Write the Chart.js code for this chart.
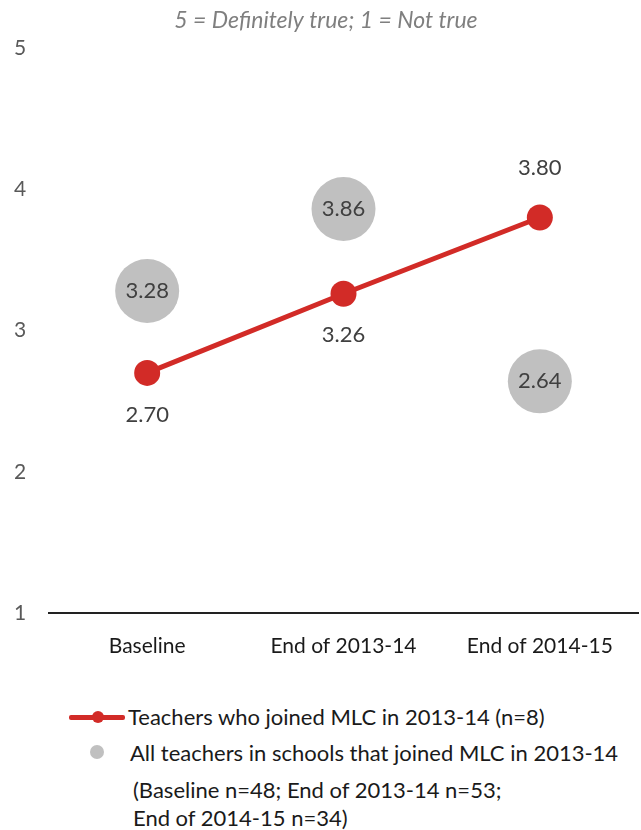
<!DOCTYPE html>
<html>
<head>
<meta charset="utf-8">
<script src="https://cdn.jsdelivr.net/npm/chart.js@4"></script>
<style>
  html, body { margin: 0; padding: 0; background: #ffffff; }
  body { width: 641px; height: 830px; position: relative; overflow: hidden; font-family: Lato, "Open Sans", sans-serif; }
  #wrap { position: absolute; left: 0; top: 0; width: 641px; height: 690px; }
  .lg { position: absolute; color: #1a1a1a; font-size: 22px; line-height: 24px; white-space: nowrap; }
  .sw-line { position: absolute; background: #d22b27; height: 5px; border-radius: 2px; }
  .sw-dot { position: absolute; border-radius: 50%; }
</style>
</head>
<body>
<div id="wrap"><canvas id="c" width="641" height="690"></canvas></div>

<div class="sw-line" style="left:69px; top:715px; width:56px;"></div>
<div class="sw-dot" style="left:92px; top:711px; width:12px; height:12px; background:#d22b27;"></div>
<div class="lg" style="left:128px; top:705px;" id="l1"></div>
<div class="sw-dot" style="left:90px; top:745px; width:14px; height:14px; background:#c0c0c0;"></div>
<div class="lg" style="left:130px; top:741px;" id="l2"></div>
<div class="lg" style="left:133px; top:778px;" id="l3"></div>
<div class="lg" style="left:133px; top:806px;" id="l4"></div>

<script>
// ---- data ----
const categories = ["Baseline", "End of 2013-14", "End of 2014-15"];
const teachersJoined = [2.70, 3.26, 3.80];
const allTeachers = [3.28, 3.86, 2.64];
const yTicks = [1, 2, 3, 4, 5];
const titleText = "5 = Definitely true; 1 = Not true";
const seriesNames = [
  "Teachers who joined MLC in 2013-14 (n=8)",
  "All teachers in schools that joined MLC in 2013-14"
];
const noteLines = [
  "(Baseline n=48; End of 2013-14 n=53;",
  "End of 2014-15 n=34)"
];

document.getElementById('l1').textContent = seriesNames[0];
document.getElementById('l2').textContent = seriesNames[1];
document.getElementById('l3').textContent = noteLines[0];
document.getElementById('l4').textContent = noteLines[1];

const FONT = "Lato, 'Open Sans', sans-serif";
const RED = "#d22b27";
const GRAY = "#c0c0c0";

const valueLabels = {
  id: 'valueLabels',
  afterDatasetsDraw(chart, args, opts) {
    const ctx = chart.ctx;
    ctx.save();
    ctx.font = "22px " + FONT;
    ctx.fillStyle = "#404040";
    ctx.textAlign = "center";
    ctx.textBaseline = "middle";
    chart.data.datasets.forEach((ds, i) => {
      const meta = chart.getDatasetMeta(i);
      const offs = opts.offsets[i];
      meta.data.forEach((pt, j) => {
        const v = ds.data[j];
        ctx.fillText(v.toFixed(2), pt.x, pt.y + offs[j]);
      });
    });
    ctx.restore();
  }
};

new Chart(document.getElementById('c'), {
  type: 'line',
  data: {
    labels: categories,
    datasets: [
      {
        label: seriesNames[1],
        data: allTeachers,
        showLine: false,
        pointRadius: 32,
        pointHoverRadius: 32,
        pointBackgroundColor: GRAY,
        pointBorderWidth: 0,
        borderColor: GRAY,
        order: 2
      },
      {
        label: seriesNames[0],
        data: teachersJoined,
        borderColor: RED,
        borderWidth: 5,
        pointRadius: 13,
        pointHoverRadius: 13,
        pointBackgroundColor: RED,
        pointBorderWidth: 0,
        tension: 0,
        order: 1
      }
    ]
  },
  options: {
    responsive: false,
    animation: false,
    events: [],
    layout: { autoPadding: false, padding: { left: 14, right: 3, top: 0, bottom: 0 } },
    plugins: {
      legend: { display: false },
      tooltip: { enabled: false },
      title: {
        display: true,
        text: titleText,
        color: "#7f7f7f",
        font: { family: FONT, size: 23, style: 'italic', weight: 'normal', lineHeight: 1.2 },
        padding: { top: 7, bottom: 13.4 }
      },
      valueLabels: { offsets: [[0, 0, 0], [42, 41, -50]] }
    },
    scales: {
      x: {
        type: 'category',
        offset: true,
        grid: { display: false, drawTicks: false, offset: true },
        border: { display: true, color: "#222222", width: 2 },
        ticks: { color: "#1a1a1a", font: { family: FONT, size: 21 }, padding: 21, maxRotation: 0, autoSkip: false },
        afterFit(scale) { scale.height = 77; }
      },
      y: {
        min: 1, max: 5,
        afterBuildTicks(scale) { scale.ticks = yTicks.map(v => ({ value: v })); },
        grid: { display: false, drawTicks: false },
        border: { display: false },
        ticks: { color: "#595959", font: { family: FONT, size: 21 }, crossAlign: 'far', padding: 0 },
        afterFit(scale) { scale.width = 35; }
      }
    }
  },
  plugins: [valueLabels]
});
</script>
</body>
</html>
